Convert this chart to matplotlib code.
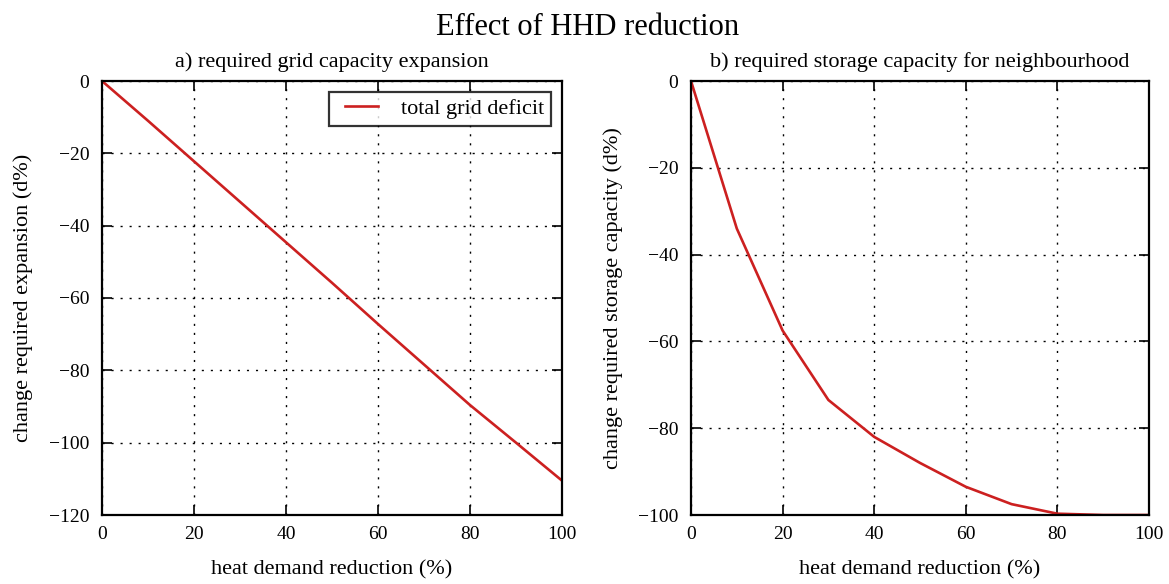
import matplotlib
matplotlib.use('Agg')
import matplotlib.pyplot as plt
from matplotlib.lines import Line2D
from matplotlib.legend_handler import HandlerLine2D

# heat demand reduction steps (%)
reduction = [0, 10, 20, 30, 40, 50, 60, 70, 80, 90, 100]

# change in required grid expansion (d%)
grid_change = [0, -11, -22.2, -33.4, -44.6, -55.8, -67.2, -78.4, -89.6, -100.0, -110.5]

# change in required neighbourhood storage capacity (d%)
storage_change = [0, -34, -57.5, -73.5, -82, -88, -93.5, -97.5, -99.7, -100, -100]

plt.rcParams['font.family'] = ['Liberation Serif', 'DejaVu Serif']
plt.rcParams['font.size'] = 16
plt.rcParams['xtick.labelsize'] = 14
plt.rcParams['ytick.labelsize'] = 14
plt.rcParams['xtick.direction'] = 'in'
plt.rcParams['ytick.direction'] = 'in'
plt.rcParams['xtick.top'] = True
plt.rcParams['ytick.right'] = True
plt.rcParams['xtick.major.size'] = 7
plt.rcParams['ytick.major.size'] = 7
plt.rcParams['xtick.major.pad'] = 8
plt.rcParams['ytick.major.pad'] = 9
plt.rcParams['axes.linewidth'] = 1.6

W, H = 1169, 584
fig = plt.figure(figsize=(W / 100, H / 100), dpi=100)
ax1 = fig.add_axes([102 / W, 1 - 515 / H, 460 / W, 434 / H])
ax2 = fig.add_axes([691 / W, 1 - 515 / H, 458 / W, 434 / H])

red = '#cc2020'

ax1.plot(reduction, grid_change, color=red, lw=1.9, label='total grid deficit')
ax1.set_xlim(0, 100)
ax1.set_ylim(-120, 0)
ax1.set_xticks([0, 20, 40, 60, 80, 100])
ax1.set_yticks([-120, -100, -80, -60, -40, -20, 0])
ax1.set_title('a) required grid capacity expansion', fontsize=16, pad=10)
ax1.set_xlabel('heat demand reduction (%)')
ax1.set_ylabel('change required expansion (d%)')
leg = ax1.legend(loc='upper right', fancybox=False, edgecolor='black',
                 handlelength=1.94, handletextpad=1.04, borderpad=0.3,
                 borderaxespad=0.48, fontsize=16,
                 handler_map={Line2D: HandlerLine2D(xpad=0.46)})
leg.get_frame().set_linewidth(1.6)

ax2.plot(reduction, storage_change, color=red, lw=1.9)
ax2.set_xlim(0, 100)
ax2.set_ylim(-100, 0)
ax2.set_xticks([0, 20, 40, 60, 80, 100])
ax2.set_yticks([-100, -80, -60, -40, -20, 0])
ax2.set_title('b) required storage capacity for neighbourhood', fontsize=16, pad=10)
ax2.set_xlabel('heat demand reduction (%)')
ax2.set_ylabel('change required storage capacity (d%)')

for ax in (ax1, ax2):
    ax.grid(True, color='black', linestyle=(0, (1.5, 5)), linewidth=1.0)
    ax.tick_params(width=1.2)
    ax.xaxis.set_label_coords(0.5, -0.104)
    ax.yaxis.set_label_coords(-0.149, 0.5)

fig.suptitle('Effect of HHD reduction', fontsize=22, x=0.503, y=1 - 35 / H,
             va='baseline')
fig.savefig('out.png', dpi=100, facecolor='white')
